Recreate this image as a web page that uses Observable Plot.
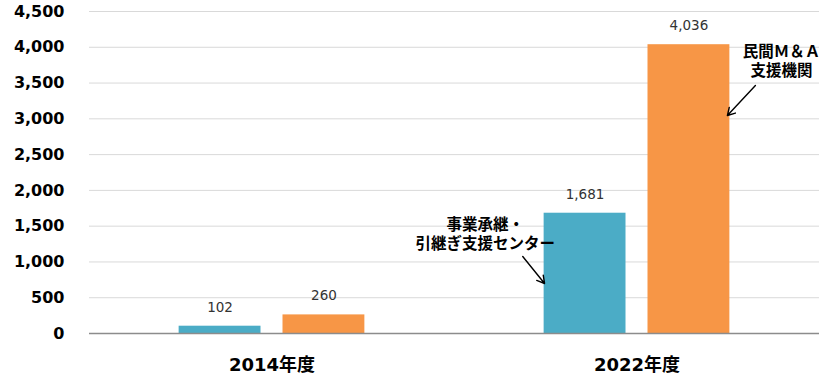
<!DOCTYPE html>
<html>
<head>
<meta charset="utf-8">
<script src="https://cdn.jsdelivr.net/npm/d3@7"></script>
<script src="https://cdn.jsdelivr.net/npm/@observablehq/plot@0.6"></script>
<style>
  html, body { margin: 0; padding: 0; background: #fff; }
  #chart svg { display: block; }
  g[aria-label^="y-axis"] text { font-weight: bold; font-size: 16px; fill: #000; }
  g[aria-label^="fx-axis"] text { font-weight: bold; font-size: 18px; fill: #000; }
</style>
</head>
<body>
<div id="chart"></div>
<script>
// ---- data ----
const years = ["2014年度", "2022年度"];
const series = ["事業承継・引継ぎ支援センター", "民間M&A支援機関"];
const values2014 = [102, 260];
const values2022 = [1681, 4036];
const yTicks = [0, 500, 1000, 1500, 2000, 2500, 3000, 3500, 4000, 4500];
const colors = ["#4BACC6", "#F79646"];

// annotations (data units, placed in the 2022 panel)
const annoText = ["事業承継・\n引継ぎ支援センター", "民間Ｍ＆Ａ\n支援機関"];
const annoYear = ["2022年度", "2022年度"];
const annoX = [-0.46, 2.39];
const annoY = [1400, 3815];
const arrowX1 = [-0.10, 2.14];
const arrowY1 = [1076, 3466];
const arrowX2 = [0.11, 1.87];
const arrowY2 = [699, 3046];

// ---- build tables ----
const valuesByYear = [values2014, values2022];
const table = [];
years.forEach((year, yi) => {
  series.forEach((s, i) => {
    table.push({year, series: s, i, value: valuesByYear[yi][i]});
  });
});
const annos = annoText.map((t, k) => ({
  text: t, year: annoYear[k], x: annoX[k], y: annoY[k],
  x1: arrowX1[k], y1: arrowY1[k], x2: arrowX2[k], y2: arrowY2[k]
}));

const font = "'DejaVu Sans', 'Noto Sans CJK JP', sans-serif";
const fmt = d3.format(",");

const chart = Plot.plot({
  width: 832,
  height: 378,
  marginLeft: 88,
  marginRight: 13,
  marginTop: 11,
  marginBottom: 45,
  style: {fontFamily: font, fontSize: "13px", background: "#fff", color: "#000"},
  fx: {domain: years, padding: 0, axis: "bottom", tickSize: 0, tickPadding: 25, label: null},
  x: {domain: [-0.757, 2.757], axis: null},
  y: {domain: [0, 4500], ticks: yTicks, tickFormat: fmt, tickSize: 0, tickPadding: 25, label: null},
  color: {domain: series, range: colors},
  marks: [
    Plot.ruleY(yTicks.filter(d => d > 0), {stroke: "#d9d9d9", strokeWidth: 1}),
    Plot.rectY(table, {
      fx: "year", x1: "i", x2: d => d.i + 1, y: "value",
      fill: "series", insetLeft: 11, insetRight: 11
    }),
    Plot.ruleY([0], {stroke: "#8c8c8c", strokeWidth: 1.5}),
    Plot.text(table, {
      fx: "year", x: d => d.i + 0.5, y: "value",
      text: d => fmt(d.value), dy: -19,
      fill: "#333333", fontSize: 13.5
    }),
    Plot.text(annos, {
      fx: "year", x: "x", y: "y", text: "text",
      fontWeight: "bold", fontSize: 15.5, lineHeight: 1.25, fill: "#000"
    }),
    Plot.arrow(annos, {
      fx: "year", x1: "x1", y1: "y1", x2: "x2", y2: "y2",
      stroke: "#000", strokeWidth: 1.4, headLength: 9
    })
  ]
});

document.getElementById("chart").appendChild(chart);
</script>
</body>
</html>
